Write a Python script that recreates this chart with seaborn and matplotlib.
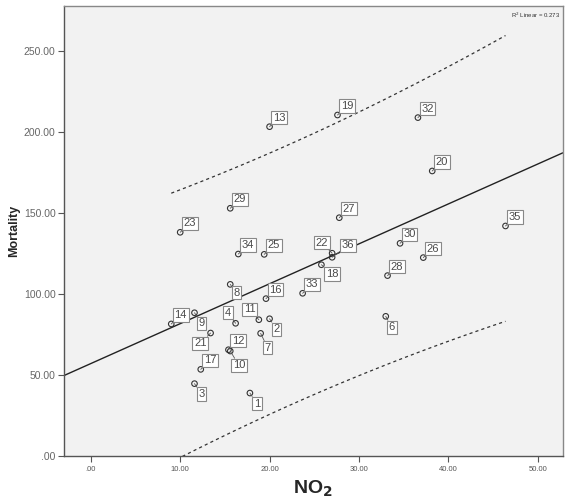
import numpy as np
import pandas as pd
import matplotlib
matplotlib.use("Agg")
import matplotlib.pyplot as plt
import seaborn as sns

# Case numbers and values
case_ids = [1, 2, 3, 4, 6, 7, 8, 9, 10, 11, 12, 13, 14, 16, 17, 18,
            19, 20, 21, 22, 23, 25, 26, 27, 28, 29, 30, 32, 33, 34, 35, 36]
no2 = [17.8, 20.0, 11.6, 16.2, 33.0, 19.0, 15.6, 11.6, 15.6, 18.8, 15.4, 20.0, 9.0, 19.6, 12.3, 25.8,
       27.6, 38.2, 13.4, 27.0, 10.0, 19.4, 37.2, 27.8, 33.2, 15.6, 34.6, 36.6, 23.7, 16.5, 46.4, 27.0]
mortality = [39.0, 84.8, 44.8, 82.0, 86.3, 75.8, 106.0, 88.5, 64.9, 84.2, 65.7, 203.2, 81.6, 97.2, 53.6, 118.1,
             210.4, 175.9, 76.0, 125.2, 138.1, 124.5, 122.5, 147.1, 111.4, 152.9, 131.3, 208.8, 100.5, 124.7, 142.0, 122.7]
x_ticks = [0, 10, 20, 30, 40, 50]
y_ticks = [0, 50, 100, 150, 200, 250]
r2_text = "R$^2$ Linear = 0.273"

df = pd.DataFrame({"id": case_ids, "NO2": no2, "Mortality": mortality})

sns.set_theme(style="white")
plt.rcParams["font.family"] = ["Liberation Sans", "DejaVu Sans"]

fig = plt.figure(figsize=(5.7, 5.01), dpi=100)
ax = fig.add_axes([0.1123, 0.0892, 0.8749, 0.8988])
ax.set_facecolor("#f2f2f2")

sns.scatterplot(data=df, x="NO2", y="Mortality", ax=ax, marker="o", s=16,
                facecolors="none", edgecolor="#333333", linewidth=0.8, zorder=3)

# linear fit and 95% prediction interval
x = df["NO2"].to_numpy()
y = df["Mortality"].to_numpy()
n = len(x)
b1, b0 = np.polyfit(x, y, 1)
resid = y - (b0 + b1 * x)
s = np.sqrt(np.sum(resid ** 2) / (n - 2))
xm = x.mean()
sxx = np.sum((x - xm) ** 2)
t = 2.042  # t(0.975, 30)

xlim = (-3.0, 52.8)
xl = np.linspace(*xlim, 50)
ax.plot(xl, b0 + b1 * xl, color="#222222", lw=1.0, zorder=2)
xp = np.linspace(x.min(), x.max(), 100)
half = t * s * np.sqrt(1 + 1 / n + (xp - xm) ** 2 / sxx)
ax.plot(xp, b0 + b1 * xp + half, color="#333333", lw=0.9, ls=(0, (2.5, 2.5)), zorder=2)
ax.plot(xp, b0 + b1 * xp - half, color="#333333", lw=0.9, ls=(0, (2.5, 2.5)), zorder=2)

# label placement (dx, dy in pixels, image coords)
offsets = {36: (16, -12), 22: (-10, -10.5), 18: (10.5, 9.3), 8: (6.3, 8.3),
           9: (7, 10.5), 2: (7, 10.5), 3: (7, 10.5), 1: (7, 10.5),
           4: (-7.7, -10.7), 11: (-9.3, -10.3), 21: (-10.3, 10.3),
           7: (7, 14.3), 10: (8.7, 14.3), 6: (6, 11)}
for cid, xv, yv in zip(case_ids, no2, mortality):
    dx, dy = offsets.get(cid, (9.5, -9))
    ax.annotate(str(cid), (xv, yv), xytext=(dx * 0.72, -dy * 0.72), textcoords="offset points",
                ha="center", va="center", fontsize=8, color="#4a4a4a", zorder=4,
                bbox=dict(boxstyle="square,pad=0.15", fc="white", ec="#888888", lw=0.8),
                arrowprops=dict(arrowstyle="-", color="#555555", lw=0.6, shrinkA=0, shrinkB=0))

ax.set_xlim(*xlim)
ax.set_ylim(0, 277.6)
ax.set_xticks(x_ticks)
ax.set_yticks(y_ticks)
fmt = lambda v: f"{v:.2f}".lstrip("0") if v < 1 else f"{v:.2f}"
ax.set_xticklabels([fmt(v) for v in x_ticks], fontsize=5.5, color="#555555")
ax.set_yticklabels([fmt(v) for v in y_ticks], fontsize=7.5, color="#666666")
ax.tick_params(axis="both", direction="out", length=4, width=0.8, color="#555555", pad=2)
ax.tick_params(axis="x", bottom=True, pad=3)
ax.tick_params(axis="y", left=True)
for sp in ax.spines.values():
    sp.set_color("#888888")
    sp.set_linewidth(1.0)
ax.spines["left"].set_color("#555555")
ax.spines["bottom"].set_color("#555555")

ax.set_xlabel("NO$_\\mathbf{2}$", fontsize=14, fontweight="bold", labelpad=4)
ax.set_ylabel("Mortality", fontsize=9, fontweight="bold", labelpad=3)
ax.text(0.995, 0.99, r2_text, transform=ax.transAxes, ha="right", va="top",
        fontsize=4.3, color="#333333")

fig.savefig("out.png", dpi=100)
